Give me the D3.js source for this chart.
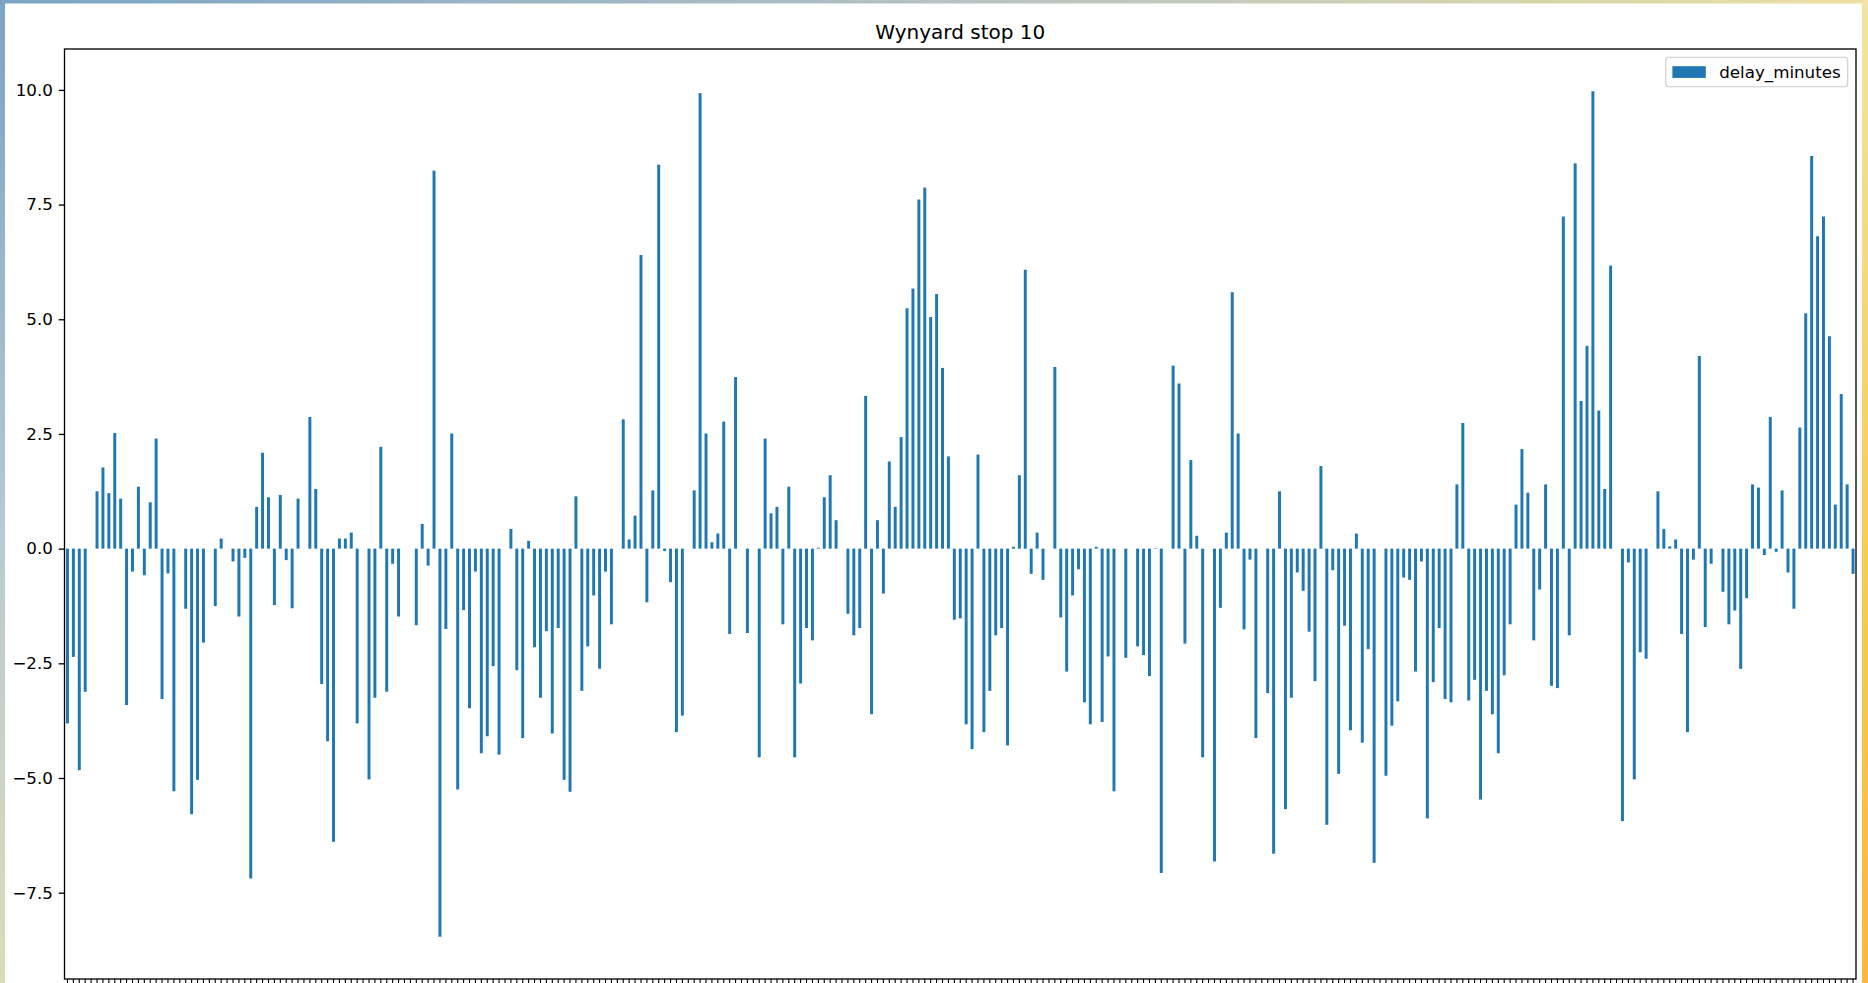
<!DOCTYPE html>
<html>
<head>
<meta charset="utf-8">
<script src="https://cdn.jsdelivr.net/npm/d3@7"></script>
<style>
  html, body { margin: 0; padding: 0; background: #ffffff; overflow: hidden; }
  svg { display: block; font-family: "DejaVu Sans", sans-serif; }
</style>
</head>
<body>
<svg id="chart" width="1868" height="983"></svg>
<script>
// ---- data ----
const chartTitle = "Wynyard stop 10";
const seriesName = "delay_minutes";

const delaysPart1 = [
  -3.81, -2.36, -4.83, -3.12, 0, 1.25, 1.77, 1.21, 2.52, 1.09, -3.41, -0.50, 1.35, -0.58, 1.01, 2.40, -3.28, -0.54, -5.29, 0, -1.31, -5.79, -5.04, -2.05, 0,
  -1.25, 0.22, 0, -0.28, -1.48, -0.20, -7.19, 0.91, 2.09, 1.12, -1.23, 1.17, -0.25, -1.30, 1.09, 0, 2.87, 1.30, -2.95, -4.20, -6.39, 0.22, 0.22, 0.35, -3.81,
  0, -5.03, -3.25, 2.22, -3.12, -0.33, -1.48, 0, 0, -1.67, 0.54, -0.37, 8.24, -8.46, -1.75, 2.51, -5.25, -1.34, -3.48, -0.50, -4.46, -4.09, -2.56, -4.49, 0
];
const delaysPart2 = [
  0.43, -2.65, -4.13, 0.17, -2.15, -3.25, -1.80, -4.03, -1.73, -5.04, -5.30, 1.14, -3.10, -2.13, -1.02, -2.62, -0.50, -1.65, 0, 2.82, 0.20, 0.72, 6.40, -1.17, 1.27, 8.37,
  -0.05, -0.73, -4.00, -3.64, 0, 1.27, 9.93, 2.51, 0.14, 0.33, 2.77, -1.86, 3.74, 0, -1.84, 0, -4.55, 2.40, 0.77, 0.91, -1.65, 1.35, -4.55, -2.94, -1.73,
  -2.00, 0.02, 1.12, 1.60, 0.62, 0, -1.42, -1.89, -1.73, 3.33, -3.61, 0.62, -0.98, 1.90, 0.91, 2.43, 5.24, 5.67, 7.61, 7.87, 5.05, 5.55, 3.94, 2.01, -1.55, -1.52
];
const delaysPart3 = [
  -3.83, -4.37, 2.05, -4.00, -3.10, -1.89, -1.73, -4.29, 0.04, 1.60, 6.08, -0.55, 0.35, -0.68, 0, 3.96, -1.50, -2.68, -1.02, -0.45, -3.35, -3.83, 0.04, -3.78, -2.35,
  -5.29, 0, -2.38, 0, -2.13, -2.32, -2.78, 0.01, -7.07, 0, 3.99, 3.60, -2.07, 1.93, 0.28, -4.55, 0, -6.82, -1.29, 0.35, 5.59, 2.51, -1.76, -0.24, -4.13,
  0, -3.15, -6.65, 1.25, -5.68, -3.25, -0.52, -0.92, -1.81, -2.89, 1.80, -6.02, -0.47, -4.91, -1.68, -3.96, 0.33, -4.23, -2.19, -6.85, 0, -4.95, -3.86, -3.33, -0.63, -0.68
];
const delaysPart4 = [
  -2.68, -0.28, -5.88, -2.91, -1.73, -3.28, -3.35, 1.40, 2.74, -3.31, -2.86, -5.47, -3.10, -3.61, -4.46, -2.76, -1.65, 0.96, 2.17, 1.22, -2.00, -0.89, 1.40, -2.99, -3.04,
  7.24, -1.89, 8.40, 3.22, 4.42, 9.97, 3.01, 1.30, 6.17, 0, -5.94, -0.30, -5.03, -2.26, -2.40, 0, 1.25, 0.43, 0.05, 0.20, -1.86, -4.00, -0.24, 4.20, -1.71,
  -0.33, 0, -0.94, -1.65, -1.35, -2.62, -1.08, 1.40, 1.33, -0.14, 2.87, -0.07, 1.27, -0.52, -1.31, 2.64, 5.13, 8.56, 6.81, 7.24, 4.63, 0.96, 3.37, 1.40, -0.55
];
const yTickValues = [-7.5, -5.0, -2.5, 0.0, 2.5, 5.0, 7.5, 10.0];

// ---- build ----
const delays = [].concat(delaysPart1, delaysPart2, delaysPart3, delaysPart4);
const categories = delays.map((_, i) => i);
const rows = categories.map((c, i) => ({ cat: c, value: delays[i] }));

const W = 1868, H = 983;
const plot = { left: 64.5, right: 1856, top: 49, bottom: 979 };
const fs = 16.7;
const barColor = "#1f77b4";

const svg = d3.select("#chart");
const defs = svg.append("defs");

// screenshot border strips
const gLeft = defs.append("linearGradient").attr("id", "gl").attr("x1", 0).attr("y1", 0).attr("x2", 0).attr("y2", 1);
gLeft.append("stop").attr("offset", "0%").attr("stop-color", "#7aa4c6");
gLeft.append("stop").attr("offset", "55%").attr("stop-color", "#b9cad2");
gLeft.append("stop").attr("offset", "100%").attr("stop-color", "#dcdcb8");
const gTop = defs.append("linearGradient").attr("id", "gt").attr("x1", 0).attr("y1", 0).attr("x2", 1).attr("y2", 0);
gTop.append("stop").attr("offset", "0%").attr("stop-color", "#7aa4c6");
gTop.append("stop").attr("offset", "50%").attr("stop-color", "#b4c2c4");
gTop.append("stop").attr("offset", "100%").attr("stop-color", "#ece0a0");
const gRight = defs.append("linearGradient").attr("id", "gr").attr("x1", 0).attr("y1", 0).attr("x2", 0).attr("y2", 1);
gRight.append("stop").attr("offset", "0%").attr("stop-color", "#f2e4a4");
gRight.append("stop").attr("offset", "50%").attr("stop-color", "#f7cd62");
gRight.append("stop").attr("offset", "100%").attr("stop-color", "#f6b93b");

svg.append("rect").attr("x", 0).attr("y", 0).attr("width", W).attr("height", H).attr("fill", "#ffffff");
svg.append("rect").attr("x", 0).attr("y", 0).attr("width", 5).attr("height", H).attr("fill", "url(#gl)");
svg.append("rect").attr("x", 0).attr("y", 0).attr("width", W).attr("height", 3.5).attr("fill", "url(#gt)");
svg.append("rect").attr("x", 1862).attr("y", 0).attr("width", 6).attr("height", H).attr("fill", "url(#gr)");

// scales
const x = d3.scaleBand()
  .domain(categories)
  .range([plot.left, plot.right])
  .paddingInner(0.5)
  .paddingOuter(0.25);

const ext = d3.extent(delays);
const pad = (ext[1] - ext[0]) * 0.05;
const y = d3.scaleLinear()
  .domain([ext[0] - pad, ext[1] + pad])
  .range([plot.bottom, plot.top]);

// bars
svg.append("g")
  .selectAll("rect")
  .data(rows)
  .join("rect")
  .attr("x", d => x(d.cat))
  .attr("width", x.bandwidth())
  .attr("y", d => y(Math.max(0, d.value)))
  .attr("height", d => Math.abs(y(d.value) - y(0)))
  .attr("fill", barColor);

// x axis ticks (labels fall below the visible area)
const xAxis = svg.append("g")
  .attr("transform", `translate(0,${plot.bottom})`)
  .call(d3.axisBottom(x).tickSize(5.8).tickFormat(""));
xAxis.select(".domain").remove();
xAxis.selectAll(".tick line").attr("stroke", "#000").attr("stroke-width", 1.1);

// y axis
const yAxis = svg.append("g")
  .attr("transform", `translate(${plot.left},0)`)
  .call(d3.axisLeft(y).tickValues(yTickValues).tickFormat(d3.format(".1f")).tickSize(5.8).tickPadding(5.8));
yAxis.select(".domain").remove();
yAxis.selectAll(".tick line").attr("stroke", "#000").attr("stroke-width", 1.33);
yAxis.selectAll(".tick text")
  .attr("font-family", "DejaVu Sans, sans-serif")
  .attr("font-size", fs)
  .attr("fill", "#000");

// frame
svg.append("rect")
  .attr("x", plot.left).attr("y", plot.top)
  .attr("width", plot.right - plot.left).attr("height", plot.bottom - plot.top)
  .attr("fill", "none").attr("stroke", "#000").attr("stroke-width", 1.33);

// title
svg.append("text")
  .attr("x", (plot.left + plot.right) / 2)
  .attr("y", 39)
  .attr("text-anchor", "middle")
  .attr("font-size", 20)
  .attr("fill", "#000")
  .text(chartTitle);

// legend
const lg = svg.append("g");
const lgW = 182, lgH = 29.5;
const lgX = plot.right - 8.3 - lgW, lgY = plot.top + 8.3;
lg.append("rect")
  .attr("x", lgX).attr("y", lgY).attr("width", lgW).attr("height", lgH)
  .attr("rx", 3).attr("ry", 3)
  .attr("fill", "#ffffff").attr("fill-opacity", 0.8)
  .attr("stroke", "#cccccc").attr("stroke-width", 1.1);
lg.append("rect")
  .attr("x", lgX + 6.7).attr("y", lgY + lgH / 2 - 5.85)
  .attr("width", 33.4).attr("height", 11.7)
  .attr("fill", barColor);
lg.append("text")
  .attr("x", lgX + 6.7 + 33.4 + 13.4)
  .attr("y", lgY + lgH / 2)
  .attr("dy", "0.35em")
  .attr("font-size", fs)
  .attr("fill", "#000")
  .text(seriesName);
</script>
</body>
</html>
